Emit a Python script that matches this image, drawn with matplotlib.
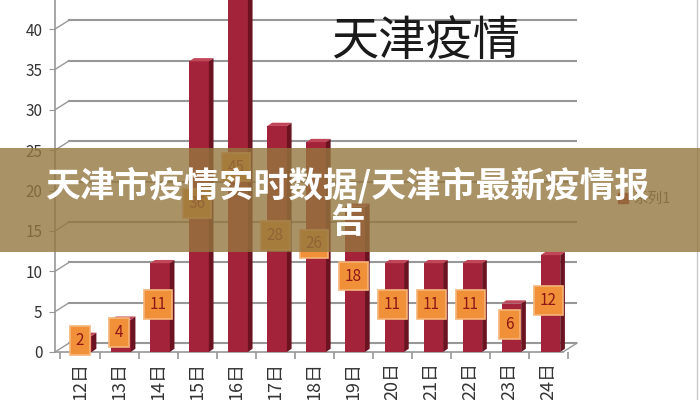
import matplotlib

matplotlib.use("Agg")
import matplotlib.pyplot as plt  # noqa: E402
from matplotlib.lines import Line2D  # noqa: E402
from matplotlib.patches import Patch, Polygon, Rectangle  # noqa: E402

plt.rcParams["font.family"] = ["Noto Sans CJK SC", "DejaVu Sans"]

# data
days = ["12日", "13日", "14日", "15日", "16日", "17日", "18日",
        "19日", "20日", "21日", "22日", "23日", "24日"]
cases = [2, 4, 11, 36, 45, 28, 26, 18, 11, 11, 11, 6, 12]
y_ticks = [0, 5, 10, 15, 20, 25, 30, 35, 40]
title = "天津疫情"
series_name = "系列1"
banner_text = "天津市疫情实时数据/天津市最新疫情报\n告"

FRONT = "#a3243a"
SIDE = "#6c1321"
TOP = "#c04658"
GRID = "#979797"

# fake 3d offsets (data units)
WALL_DX, WALL_DY = 0.36, 1.1
BAR_DX, BAR_DY = 0.12, 0.4
BAR_W = 0.5

fig = plt.figure(figsize=(7, 4), dpi=100)
ax = fig.add_axes([55 / 700, 48 / 400, 522 / 700, 352 / 400])
x0, x1 = -0.64, 12.73
ax.set_xlim(x0, x1)
ax.set_ylim(0, 43.6)
for s in ax.spines.values():
    s.set_visible(False)

# back wall grid + floor
for v in y_ticks:
    ax.plot([x0 + WALL_DX, x1], [v + WALL_DY] * 2, color=GRID, lw=1.5, zorder=1)
    ax.plot([x0, x0 + WALL_DX], [v, v + WALL_DY], color=GRID, lw=1.0, zorder=1)
ax.plot([x0, x1 - WALL_DX], [0, 0], color=GRID, lw=1.2, zorder=1, clip_on=False)
ax.plot([x1 - WALL_DX, x1], [0, WALL_DY], color=GRID, lw=1.0, zorder=1, clip_on=False)
ax.plot([x0, x0], [0, 43.6], color=GRID, lw=1.2, zorder=1, clip_on=False)

# bars
for i, v in enumerate(cases):
    xl = i - BAR_W / 2 + 0.05
    xr = xl + BAR_W
    ax.bar(xl + BAR_W / 2, v, width=BAR_W, color=FRONT, zorder=3)
    ax.add_patch(Polygon([(xr, 0), (xr + BAR_DX, BAR_DY), (xr + BAR_DX, v + BAR_DY), (xr, v)],
                         closed=True, fc=SIDE, ec="none", zorder=3))
    ax.add_patch(Polygon([(xl, v), (xl + BAR_DX, v + BAR_DY), (xr + BAR_DX, v + BAR_DY), (xr, v)],
                         closed=True, fc=TOP, ec="none", zorder=3))
    ax.text(i, v / 2 + 0.4, str(v), ha="center", va="center", fontsize=11,
            color="#8e1616", zorder=4,
            bbox=dict(boxstyle="square,pad=0.38", fc="#f0913a", ec="#f6b579", lw=1.2))

# ticks
ax.set_yticks(y_ticks)
ax.set_yticklabels([str(v) for v in y_ticks])
ax.tick_params(axis="y", length=4, color=GRID, pad=5, labelsize=11, labelcolor="#333333")
ax.set_xticks(range(len(days)))
ax.set_xticklabels(days, rotation=90, va="top")
ax.tick_params(axis="x", length=0, pad=7, labelsize=13, labelcolor="#333333")
ax.set_xticks([i + 0.5 for i in range(-1, len(days))], minor=True)
ax.tick_params(axis="x", which="minor", length=5, color=GRID, width=1.2)

fig.text(426 / 700, 1 - 42 / 400, title, fontsize=34, ha="center", va="center",
         color="#1a1a1a")

fig.legend(handles=[Patch(color=FRONT)], labels=[series_name], loc="center left",
           bbox_to_anchor=(605 / 700, 1 - 199 / 400), frameon=False,
           handlelength=0.7, handleheight=0.7, handletextpad=0.4, fontsize=10.5,
           labelcolor="#555555")

fig.add_artist(Line2D([0.996, 0.996], [0, 1], color="#c8c8c8", lw=1))

# overlay banner
fig.patches.append(Rectangle((0, 0.37), 1, 0.26, transform=fig.transFigure,
                             fc="#94773f", alpha=0.8, ec="none", zorder=10))
fig.text(0.497, 0.492, banner_text, fontsize=25, fontweight="bold", color="white",
         ha="center", va="center", multialignment="center", linespacing=1.05, zorder=11)

fig.savefig("out.png", dpi=100)
plt.close(fig)
